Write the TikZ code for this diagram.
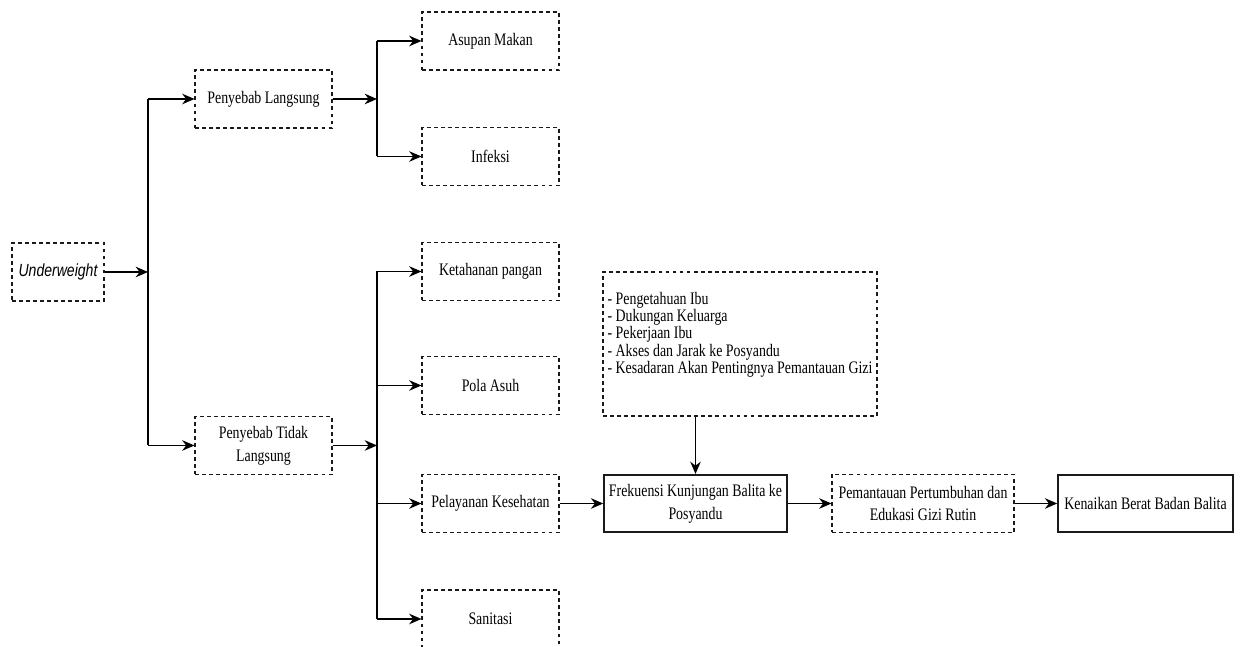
\documentclass[tikz,border=0pt]{standalone}
\usepackage{fontspec}
\setmainfont[FakeStretch=0.79]{Liberation Serif}
\newfontfamily\uwfont[FakeStretch=0.8]{Liberation Sans}
\usetikzlibrary{arrows.meta}
\definecolor{UWLine}{HTML}{1A1A1A}

\begin{document}
\begin{tikzpicture}[x=1cm,y=1cm,
  dbox/.style={draw=UWLine,line width=0.6pt,dash pattern=on 2.2pt off 1.8pt,minimum width=2.74cm,minimum height=1.16cm,inner sep=1pt,align=center,font=\fontsize{10}{12.9}\selectfont},
  sbox/.style={draw=UWLine,line width=0.9pt,minimum height=1.15cm,inner sep=1pt,align=center,font=\fontsize{10}{12.9}\selectfont},
  arr/.style={line width=0.9pt,-{Stealth[length=7pt,width=6pt]}},
  lin/.style={line width=0.8pt}]
\path[use as bounding box] (0,0) rectangle (25.02,12.94);
\node[dbox,minimum width=1.84cm,font=\uwfont\itshape\fontsize{10}{12}\selectfont] (uw) at (1.16,7.50) {Underweight};
\node[dbox] (pl) at (5.27,10.96) {Penyebab Langsung};
\node[dbox] (ptl) at (5.27,4.03) {Penyebab Tidak\\Langsung};
\node[dbox] (am) at (9.81,12.12) {Asupan Makan};
\node[dbox] (inf) at (9.81,9.81) {Infeksi};
\node[dbox] (kp) at (9.81,7.51) {Ketahanan pangan};
\node[dbox] (pa) at (9.81,5.23) {Pola Asuh};
\node[dbox] (pk) at (9.81,2.87) {Pelayanan Kesehatan};
\node[dbox] (san) at (9.81,0.56) {Sanitasi};
\node[dbox,minimum width=5.48cm,minimum height=2.88cm,align=left,font=\fontsize{10}{9.8}\selectfont] (lst) at (14.80,6.06) {- Pengetahuan Ibu\\- Dukungan Keluarga\\- Pekerjaan Ibu\\- Akses dan Jarak ke Posyandu\\- Kesadaran Akan Pentingnya Pemantauan Gizi\\[3pt]};
\node[sbox,minimum width=3.66cm] (fk) at (13.91,2.87) {Frekuensi Kunjungan Balita ke\\Posyandu};
\node[dbox,minimum width=3.64cm] (pp) at (18.46,2.87) {Pemantauan Pertumbuhan dan\\Edukasi Gizi Rutin};
\node[sbox,minimum width=3.50cm] (kb) at (22.91,2.87) {Kenaikan Berat Badan Balita};
\coordinate (b1) at (2.96,7.50);
\coordinate (b2) at (7.54,10.96);
\coordinate (b3) at (7.54,4.03);
\draw[arr] (uw) -- (b1);
\draw[lin] (b1 |- pl) -- (b1 |- ptl);
\draw[arr] (b1 |- pl) -- (pl);
\draw[arr] (b1 |- ptl) -- (ptl);
\draw[arr] (pl) -- (b2);
\draw[lin] (b2 |- am) -- (b2 |- inf);
\draw[arr] (b2 |- am) -- (am);
\draw[arr] (b2 |- inf) -- (inf);
\draw[arr] (ptl) -- (b3);
\draw[lin] (b3 |- kp) -- (b3 |- san);
\foreach \n in {kp,pa,pk,san}
  \draw[arr] (b3 |- \n) -- (\n);
\draw[arr] (pk) -- (fk);
\draw[arr] (lst.south -| fk) -- (fk);
\draw[arr] (fk) -- (pp);
\draw[arr] (pp) -- (kb);
\end{tikzpicture}
\end{document}
